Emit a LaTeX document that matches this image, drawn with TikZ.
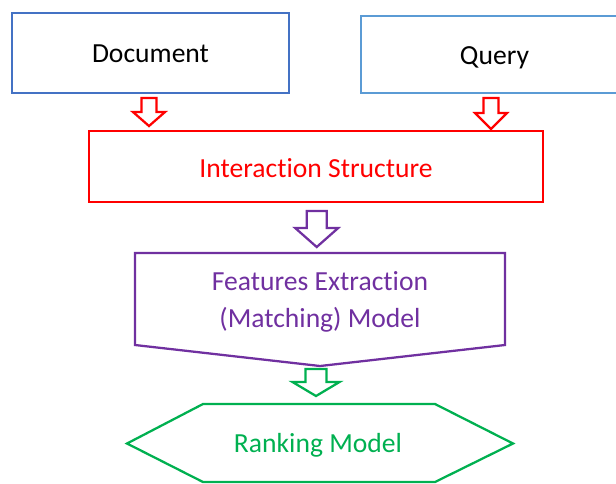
\documentclass[tikz,border=0pt]{standalone}
\usepackage{fontspec}
\setmainfont{Carlito}[Ligatures={NoCommon,NoRare,NoDiscretionary}]
\definecolor{docblue}{HTML}{4472C4}
\definecolor{qblue}{HTML}{5B9BD5}
\definecolor{ired}{HTML}{FF0000}
\definecolor{fpurple}{HTML}{7030A0}
\definecolor{rgreen}{HTML}{00B050}
\newcommand{\blkarrow}[7]{% color, cx, top, headstart, tip, shaft half, head half
  \draw[#1, line width=1.7pt, line join=miter, fill=white]
    (#2-#6,#3) -- (#2+#6,#3) -- (#2+#6,#4) -- (#2+#7,#4) -- (#2,#5)
    -- (#2-#7,#4) -- (#2-#6,#4) -- cycle;}
\begin{document}
\begin{tikzpicture}[x=0.75pt,y=-0.75pt,
  txt/.style={font=\fontsize{20.7}{27.4}\selectfont, align=center, inner sep=0pt},
  boxst/.style={draw, line width=1.7pt, inner sep=0pt}]
\useasboundingbox (0,0) rectangle (616,483);
\clip (0,0) rectangle (616,483);
% input boxes
\node[boxst, draw=docblue, minimum width=207.75pt, minimum height=60pt] (doc) at (150.5,53) {};
\node[txt, text=black] (doctxt) at (150.5,54) {Document};
\node[boxst, draw=qblue, minimum width=199.5pt, minimum height=57.75pt] (query) at (494,54.5) {};
\node[txt, text=black] (querytxt) at (494.5,58) {Query};
% interaction
\node[boxst, draw=ired, minimum width=340.5pt, minimum height=53.25pt] (inter) at (316,166.5) {};
\node[txt, text=ired] (intertxt) at (316,168) {Interaction Structure};
% features (offpage-like shape)
\draw[fpurple, line width=1.7pt, line join=miter]
  (135,253) -- (505,253) -- (505,345) -- (320,366) -- (135,345) -- cycle;
\node[txt, text=fpurple] (feat) at (320,302)
  {Features Extraction\\(Matching) Model};
% ranking hexagon
\draw[rgreen, line width=1.7pt, line join=miter]
  (203,404) -- (435,404) -- (513,443.5) -- (435,482) -- (203,482) -- (127,443.5) -- cycle;
\node[txt, text=rgreen] (rank) at (318,445) {Ranking Model};
% block arrows
\blkarrow{ired}{149}{98}{112}{126}{7.5}{16}
\blkarrow{ired}{491}{98}{113}{129}{7.5}{16}
\blkarrow{fpurple}{316.7}{211}{228}{247}{10}{21.5}
\blkarrow{rgreen}{316}{369}{382}{396}{10.5}{23.5}
\end{tikzpicture}
\end{document}
